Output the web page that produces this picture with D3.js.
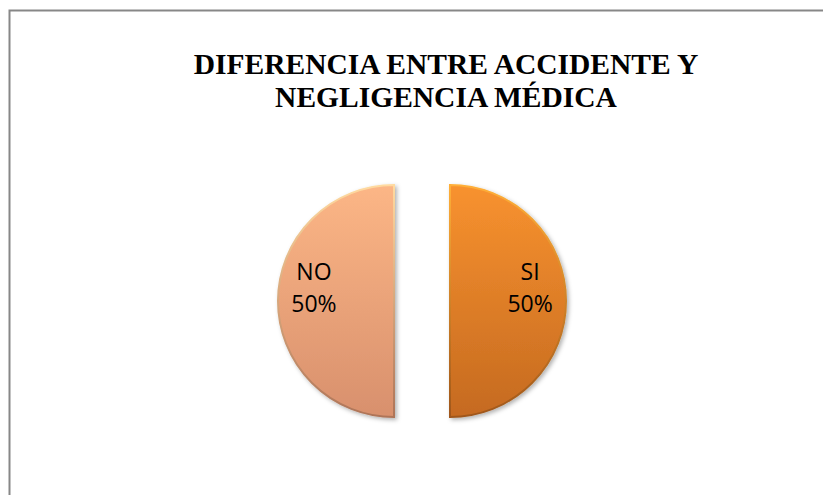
<!DOCTYPE html>
<meta charset="utf-8">
<style>
  body { margin: 0; background: #fff; overflow: hidden; }
  .title { font-family: "Liberation Serif", "Times New Roman", "DejaVu Serif", serif; font-weight: bold; font-size: 29.5px; }
  .label { font-family: "Open Sans", sans-serif; font-size: 23px; }
</style>
<body>
<script src="https://d3js.org/d3.v7.min.js"></script>
<script>
var width = 823,
    height = 495;

// data
var categories = ["SI", "NO"];
var values = [50, 50];
var titleLines = ["DIFERENCIA ENTRE ACCIDENTE Y", "NEGLIGENCIA MÉDICA"];
var topColors = ["#f8922f", "#fcb686"];
var bottomColors = ["#c56a20", "#d8906d"];

var cx = 422, cy = 301, radius = 116, explode = 28;

var svg = d3.select("body").append("svg")
    .attr("width", width)
    .attr("height", height)
    .style("display", "block");

var defs = svg.append("defs");

categories.forEach(function(c, i) {
  var g = defs.append("linearGradient")
      .attr("id", "fill" + i)
      .attr("x1", 0).attr("y1", 0).attr("x2", 0).attr("y2", 1);
  g.append("stop").attr("offset", "0%").attr("stop-color", topColors[i]);
  g.append("stop").attr("offset", "100%").attr("stop-color", bottomColors[i]);

  var e = defs.append("linearGradient")
      .attr("id", "edge" + i)
      .attr("x1", 0).attr("y1", 0).attr("x2", 0).attr("y2", 1);
  e.append("stop").attr("offset", "0%").attr("stop-color", d3.color(topColors[i]).brighter(0.5));
  e.append("stop").attr("offset", "100%").attr("stop-color", d3.color(bottomColors[i]).darker(0.6));
});

var shadow = defs.append("filter").attr("id", "shadow")
    .attr("x", "-10%").attr("y", "-10%").attr("width", "130%").attr("height", "130%");
shadow.append("feDropShadow")
    .attr("dx", 2).attr("dy", 2).attr("stdDeviation", 2)
    .attr("flood-color", "#000").attr("flood-opacity", 0.3);

// chart border: only top and left edges fall inside the picture
svg.append("path")
    .attr("d", "M9.5," + height + "V10.5H" + width)
    .attr("fill", "none")
    .attr("stroke", "#878787")
    .attr("stroke-width", 2);

svg.append("text")
    .attr("class", "title")
    .attr("text-anchor", "middle")
    .selectAll("tspan")
    .data(titleLines)
  .join("tspan")
    .attr("x", 446)
    .attr("y", function(d, i) { return 74 + i * 33; })
    .text(function(d) { return d; });

var pie = d3.pie().sort(null)(values);
var arc = d3.arc().innerRadius(0).outerRadius(radius);
var labelArc = d3.arc().innerRadius(radius * 0.69).outerRadius(radius * 0.69);

var slices = svg.append("g")
    .attr("transform", "translate(" + cx + "," + cy + ")")
  .selectAll("g")
    .data(pie)
  .join("g")
    .attr("transform", function(d) {
      var a = (d.startAngle + d.endAngle) / 2;
      return "translate(" + (Math.sin(a) * explode) + "," + (-Math.cos(a) * explode) + ")";
    });

slices.append("path")
    .attr("d", arc)
    .attr("fill", function(d, i) { return "url(#fill" + i + ")"; })
    .attr("stroke", function(d, i) { return "url(#edge" + i + ")"; })
    .attr("stroke-width", 2)
    .attr("filter", "url(#shadow)");

var labels = slices.append("text")
    .attr("class", "label")
    .attr("text-anchor", "middle")
    .attr("fill", "#000")
    .attr("transform", function(d) { return "translate(" + labelArc.centroid(d) + ")"; });

labels.append("tspan")
    .attr("x", 0).attr("y", -21)
    .text(function(d, i) { return categories[i]; });
labels.append("tspan")
    .attr("x", 0).attr("y", 11)
    .text(function(d) { return d.value + "%"; });
</script>
</body>
